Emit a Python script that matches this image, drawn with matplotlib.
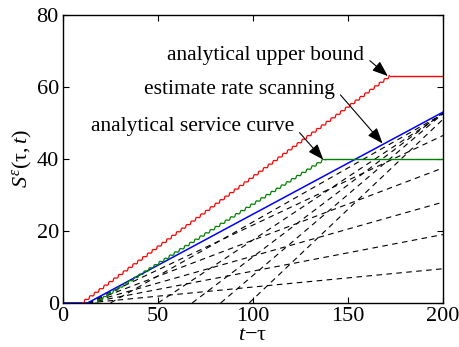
import matplotlib
matplotlib.use("Agg")
import matplotlib.pyplot as plt

plt.rcParams['font.family'] = ['Liberation Serif', 'DejaVu Serif']
plt.rcParams['mathtext.fontset'] = 'custom'
plt.rcParams['mathtext.rm'] = 'Liberation Serif'
plt.rcParams['mathtext.it'] = 'Liberation Serif:italic'

# analytical upper bound (red), ramp then flat
upper_t = [10, 172]
upper_s = [0, 63]
upper_flat_t = [172, 200]
upper_flat_s = [63, 63]

# analytical service curve (green)
service_t = [17, 138]
service_s = [0, 40]
service_flat_t = [138, 200]
service_flat_s = [40, 40]

# estimate from rate scanning (blue)
est_t = [0, 13, 200]
est_s = [0, 0, 53]

# scanned rates (dashed): start time on the axis and value at t=200
scan_start = [13, 13, 13, 13, 13, 25, 50, 68, 83, 98]
scan_end = [9.5, 19, 28, 37.5, 46.5, 52.5, 52.5, 52.8, 52.6, 51]

# labels: text (right end, centre), arrow tail, arrow head
labels = ['analytical upper bound', 'estimate rate scanning', 'analytical service curve']
label_pos = [(158.5, 68.8), (143, 59.2), (121.5, 48.9)]
arrow_tail = [(161.5, 67.3), (146, 57.8), (124.5, 47.3)]
arrow_head = [(171, 63), (168.2, 44.3), (137, 39.8)]

fig = plt.figure(figsize=(4.6, 3.47), dpi=100)
ax = fig.add_axes([0.137, 0.127, 0.826, 0.83])

for t0, s1 in zip(scan_start, scan_end):
    ax.plot([t0, 200], [0, s1], color='k', ls=(0, (5, 4)), lw=0.8)

ax.plot(est_t, est_s, color='#0000ff', lw=1.1)

g, = ax.plot(service_t, service_s, color='#008000', lw=0.9)
g.set_sketch_params(scale=1.0, length=6, randomness=1)
ax.plot(service_flat_t, service_flat_s, color='#008000', lw=1.0)

r, = ax.plot(upper_t, upper_s, color='#ff0000', lw=0.9)
r.set_sketch_params(scale=1.0, length=6, randomness=1)
ax.plot(upper_flat_t, upper_flat_s, color='#ff0000', lw=1.0)

arrow = dict(arrowstyle='-|>,head_length=0.8,head_width=0.3', color='k', lw=0.8,
             mutation_scale=12, shrinkA=0, shrinkB=0)
for txt, p, a, h in zip(labels, label_pos, arrow_tail, arrow_head):
    ax.text(p[0], p[1], txt, ha='right', va='center', fontsize=15.5)
    ax.annotate('', xy=h, xytext=a, arrowprops=arrow)

ax.set_xlim(0, 200)
ax.set_ylim(0, 80)
ax.set_xticks([0, 50, 100, 150, 200])
ax.set_yticks([0, 20, 40, 60, 80])
ax.tick_params(direction='in', top=True, right=True, labelsize=16, length=4, pad=3)
for sp in ax.spines.values():
    sp.set_linewidth(1.0)

ax.set_xlabel(r'$t\mathrm{-}\mathrm{\tau}$', fontsize=16, labelpad=0)
ax.set_ylabel(r'$S^{\epsilon}(\mathrm{\tau},t)$', fontsize=16, labelpad=2)

fig.savefig('out.png', dpi=100)
